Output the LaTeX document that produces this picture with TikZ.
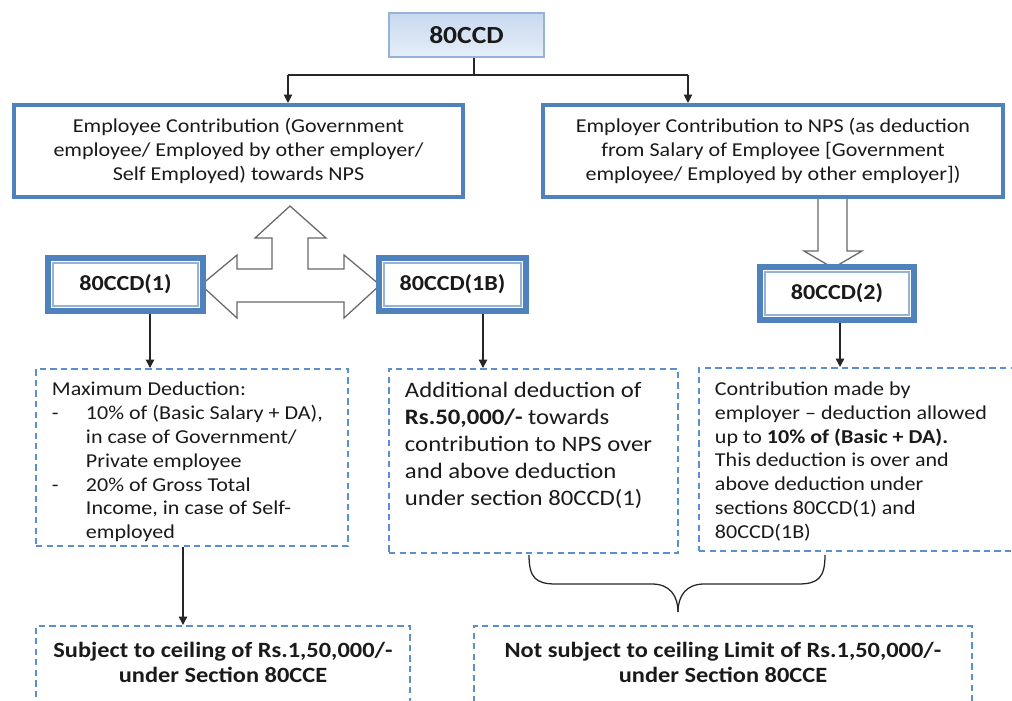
\documentclass[tikz,border=0pt]{standalone}
\usepackage{fontspec}
\setmainfont{Carlito}[FakeStretch=1.12]
\usetikzlibrary{arrows.meta}
\definecolor{npsBlue}{HTML}{4F81BD}
\definecolor{npsLight}{HTML}{95B3D7}
\definecolor{npsDash}{HTML}{5B8FD0}
\definecolor{npsTopA}{HTML}{C8D9EF}
\definecolor{npsTopB}{HTML}{E6EEF8}
\definecolor{npsGrey}{HTML}{686868}
\definecolor{npsText}{HTML}{1A1A1A}
\newcommand{\notetext}[3]{\parbox[c][#2][t]{#1}{#3}}
\tikzset{
  headbox/.style  = {draw=npsLight, line width=1.4pt, top color=npsTopA, bottom color=npsTopB,
                     text=npsText, font=\fontsize{17.5}{21}\selectfont\bfseries},
  mainbox/.style  = {draw=npsBlue, line width=2.9pt, fill=white, align=center, text=npsText,
                     font=\fontsize{14}{17}\selectfont},
  secbox/.style   = {draw=npsBlue, line width=4.3pt, fill=white, text=npsText,
                     font=\fontsize{15.3}{18}\selectfont\bfseries,
                     path picture={\draw[npsLight, line width=1pt]
                       ([shift={(0.125cm,0.125cm)}]path picture bounding box.south west) rectangle
                       ([shift={(-0.125cm,-0.125cm)}]path picture bounding box.north east);}},
  notebox/.style  = {draw=npsDash, line width=1.4pt, dash pattern=on 4.5pt off 3pt,
                     inner sep=0pt, text=npsText},
  link/.style     = {line width=0.9pt, black!85},
  flow/.style     = {link, -{Triangle[length=6pt, width=6pt]}},
  block/.style    = {draw=npsGrey, line width=0.9pt, fill=white, line join=miter},
  brace/.style    = {line width=0.9pt, black!85},
}

\begin{document}
\begin{tikzpicture}[x=0.025cm, y=-0.025cm]
  \useasboundingbox (0,0) rectangle (1012,700);

  % top of the tree
  \node[headbox, minimum width=3.875cm, minimum height=1.1cm] (top) at (466.5,35) {80CCD};

  \node[mainbox, minimum width=11.225cm, minimum height=2.3cm] (emp) at (238.5,151)
    {Employee Contribution (Government\\
     employee/ Employed by other employer/\\
     Self Employed) towards NPS};
  \node[mainbox, minimum width=11.5cm, minimum height=2.3cm] (empr) at (773,151)
    {Employer Contribution to NPS (as deduction\\
     from Salary of Employee [Government\\
     employee/ Employed by other employer])};

  \coordinate (jm) at (474,75);
  \coordinate (jl) at (288,75);
  \coordinate (jr) at (688,75);
  \draw[link] (jm |- top.south) -- (jm);
  \draw[link] (jl) -- (jr);
  \draw[flow] (jl) -- (jl |- emp.north);
  \draw[flow] (jr) -- (jr |- empr.north);

  % block arrows
  \draw[block] (201,285) -- (237,255) -- (237,269) -- (272,269) -- (272,238) -- (255,238)
    -- (290,206) -- (326,238) -- (308,238) -- (308,269) -- (344,269) -- (344,255)
    -- (380,285) -- (344,318) -- (344,302) -- (237,302) -- (237,318) -- cycle;
  \draw[block] (818,0 |- empr.south) -- (818,251) -- (804,251) -- (833,268)
    -- (862,251) -- (847,251) -- (847,0 |- empr.south);

  % sections
  \node[secbox, minimum width=3.875cm, minimum height=1.325cm] (c1) at (125.5,284.5) {80CCD(1)};
  \node[secbox, minimum width=3.675cm, minimum height=1.325cm] (c1b) at (452.5,284.5) {80CCD(1B)};
  \node[secbox, minimum width=3.85cm, minimum height=1.325cm] (c2) at (837,293.5) {80CCD(2)};

  % notes
  \node[notebox, minimum width=7.8cm, minimum height=4.425cm] (n1) at (192,457.5)
    {\notetext{7cm}{3.785cm}{\fontsize{14}{17}\selectfont\raggedright
      Maximum Deduction:\\
      \makebox[0.85cm][l]{-}10\% of (Basic Salary + DA),\\
      \hspace*{0.85cm}in case of Government/\\
      \hspace*{0.85cm}Private employee\\
      \makebox[0.85cm][l]{-}20\% of Gross Total\\
      \hspace*{0.85cm}Income, in case of Self-\\
      \hspace*{0.85cm}employed}};
  \node[notebox, minimum width=7.225cm, minimum height=4.6cm] (n2) at (533.5,461)
    {\notetext{6.425cm}{3.96cm}{\fontsize{15.7}{19.2}\selectfont\raggedright
      Additional deduction of\\
      \textbf{Rs.50,000/-} towards\\
      contribution to NPS over\\
      and above deduction\\
      under section 80CCD(1)}};
  \node[notebox, minimum width=8.275cm, minimum height=4.575cm] (n3) at (864.5,459.5)
    {\notetext{7.475cm}{3.895cm}{\fontsize{14}{17}\selectfont\raggedright
      Contribution made by\\
      employer -- deduction allowed\\
      up to \textbf{10\% of (Basic + DA).}\\
      This deduction is over and\\
      above deduction under\\
      sections 80CCD(1) and\\
      80CCD(1B)}};

  \draw[flow] (150,0 |- c1.south) -- (150,0 |- n1.north);
  \draw[flow] (483,0 |- c1b.south) -- (483,0 |- n2.north);
  \draw[flow] (840,0 |- c2.south) -- (840,0 |- n3.north);

  % ceilings
  \node[notebox, minimum width=9.35cm, minimum height=2.35cm] (b1) at (223,673)
    {\notetext{9cm}{1.55cm}{\centering\fontsize{15.5}{18}\selectfont\bfseries
      Subject to ceiling of Rs.1,50,000/-\\
      under Section 80CCE}};
  \node[notebox, minimum width=12.45cm, minimum height=2.35cm] (b2) at (723,673)
    {\notetext{12cm}{1.55cm}{\centering\fontsize{15.5}{18}\selectfont\bfseries
      Not subject to ceiling Limit of Rs.1,50,000/-\\
      under Section 80CCE}};

  \draw[flow] (183,0 |- n1.south) -- (183,0 |- b1.north);

  % brace joining the two right notes
  \draw[brace] (529,555) .. controls (529,578) and (536,584) .. (556,584) -- (652,584)
    .. controls (670,584) and (678,596) .. (678,612);
  \draw[brace] (825,555) .. controls (825,578) and (818,584) .. (798,584) -- (704,584)
    .. controls (686,584) and (678,596) .. (678,612);
\end{tikzpicture}
\end{document}
